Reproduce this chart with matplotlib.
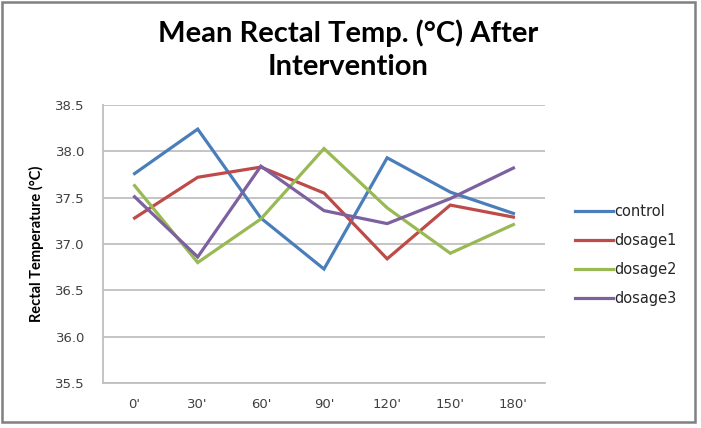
import matplotlib.pyplot as plt
from matplotlib.patches import Rectangle

times = ["0'", "30'", "60'", "90'", "120'", "150'", "180'"]
control = [37.76, 38.24, 37.28, 36.73, 37.93, 37.56, 37.33]
dosage1 = [37.28, 37.72, 37.83, 37.55, 36.84, 37.42, 37.29]
dosage2 = [37.63, 36.80, 37.27, 38.03, 37.39, 36.90, 37.21]
dosage3 = [37.51, 36.86, 37.84, 37.36, 37.22, 37.49, 37.82]
series_names = ["control", "dosage1", "dosage2", "dosage3"]
colors = ["#4A7EBB", "#BE4B48", "#98B954", "#7D60A0"]

W, H = 701, 428
fig = plt.figure(figsize=(W / 100, H / 100), dpi=100)

# plot area in pixel coords: x 103..545, y 105..383
ax = fig.add_axes([103 / W, 1 - 383 / H, (545 - 103) / W, (383 - 105) / H])

x = list(range(len(times)))
for name, vals, c in zip(series_names, [control, dosage1, dosage2, dosage3], colors):
    ax.plot(x, vals, color=c, lw=2.3, label=name, solid_joinstyle="miter")

ax.set_xlim(-0.5, len(times) - 0.5)
ax.set_ylim(35.5, 38.5)
ax.set_yticks([35.5, 36.0, 36.5, 37.0, 37.5, 38.0, 38.5])
ax.set_yticklabels(["%.1f" % v for v in ax.get_yticks()])
ax.set_xticks(x)
ax.set_xticklabels(times)
ax.yaxis.grid(True, color="#BFBFBF", lw=1.3)
ax.set_axisbelow(True)
for s in ["top", "right"]:
    ax.spines[s].set_visible(False)
ax.spines["left"].set_color("#BFBFBF")
ax.spines["bottom"].set_color("#BFBFBF")
ax.spines["left"].set_linewidth(1.3)
ax.spines["bottom"].set_linewidth(1.3)
ax.tick_params(length=0, labelsize=9.5, colors="#404040", pad=13)
ax.tick_params(axis="x", pad=11)

ax.set_ylabel("Rectal Temperature (°C)", fontsize=10.5, fontweight="bold",
              fontfamily="Lato", labelpad=8)

fig.text(348 / W, 1 - 50 / H, "Mean Rectal Temp. (°C) After\nIntervention",
         ha="center", va="center", fontsize=21, fontweight="bold",
         fontfamily="Lato", linespacing=1.32)

leg = ax.legend(loc="center left", bbox_to_anchor=(562 / W, 1 - 255 / H),
                bbox_transform=fig.transFigure, frameon=False,
                prop={"size": 10.5}, handlelength=2.6,
                handletextpad=0.1, labelspacing=0.95)
for t in leg.get_texts():
    t.set_color("#262626")

fig.patches.append(Rectangle((1.5 / W, 1 - 422 / H), (695 - 1.5) / W, (421 - 1) / H,
                             transform=fig.transFigure, fill=False,
                             edgecolor="#808080", lw=1.8))

fig.savefig("out.png", dpi=100)
